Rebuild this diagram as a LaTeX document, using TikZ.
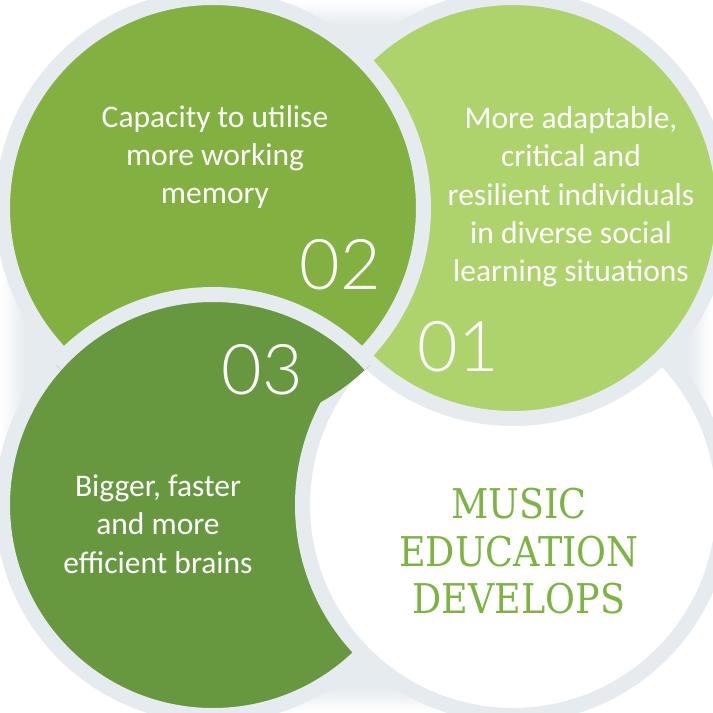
\documentclass[tikz,border=0pt]{standalone}
\usepackage{fontspec}
\setmainfont{Carlito}
\newfontfamily\bodyfont{Carlito}
\newfontfamily\thinfont{Lato}[UprightFont=* Light]
\newfontfamily\slabfont{DejaVu Serif}[FakeStretch=0.89]
\definecolor{gapgray}{HTML}{E6EBEF}
\definecolor{ctwo}{HTML}{82B041}
\definecolor{cone}{HTML}{AED36C}
\definecolor{cthree}{HTML}{67983F}
\definecolor{titlegreen}{HTML}{7DB343}
\tikzset{
  ring/.style={draw=gapgray, line width=15pt},
  bodytext/.style={text=white, align=center, inner sep=0pt, font=\bodyfont\fontsize{31.5}{38.3}\selectfont},
  numtext/.style={text=white, inner sep=0pt, font=\thinfont\fontsize{70}{70}\selectfont},
  titletext/.style={text=titlegreen, align=center, inner sep=0pt, font=\slabfont\fontsize{41}{47.5}\selectfont}
}
\begin{document}
\begin{tikzpicture}[x=1pt,y=-1pt]
\useasboundingbox (0,0) rectangle (713,713);
% background with soft white edges
\fill[white] (0,0) rectangle (713,713);
\foreach \i in {0,...,25}{
  \pgfmathsetmacro\p{\i*4}
  \pgfmathsetmacro\r{190-2*\i}
  \fill[gapgray!\p!white, rounded corners=\r pt] (\i,\i) rectangle (713-\i,713-\i);
}
% circles (pinwheel order)
\filldraw[ring, fill=cthree] (213,505) circle (210.5);
\filldraw[ring, fill=white]  (513,505) circle (210.5);
\filldraw[ring, fill=cone]   (513,208) circle (210.5);
\filldraw[ring, fill=ctwo]   (213,208) circle (210.5);
\begin{scope}
  \clip (213,208) circle (222);
  \filldraw[ring, fill=cthree] (213,505) circle (210.5);
\end{scope}
% texts
\node[bodytext] (t02) at (215,157) {Capacity to utilise\\more working\\memory};
\node[bodytext] (t01) at (571,197) {More adaptable,\\critical and\\resilient individuals\\in diverse social\\learning situations};
\node[bodytext] (t03) at (158,524) {Bigger, faster\\and more\\efficient brains};
\node[numtext] (n02) at (340.5,265) {02};
\node[numtext] (n01) at (458,347) {01};
\node[numtext] (n03) at (262,370) {03};
\node[titletext] (title) at (519,551.5) {MUSIC\\EDUCATION\\DEVELOPS};
\end{tikzpicture}
\end{document}
